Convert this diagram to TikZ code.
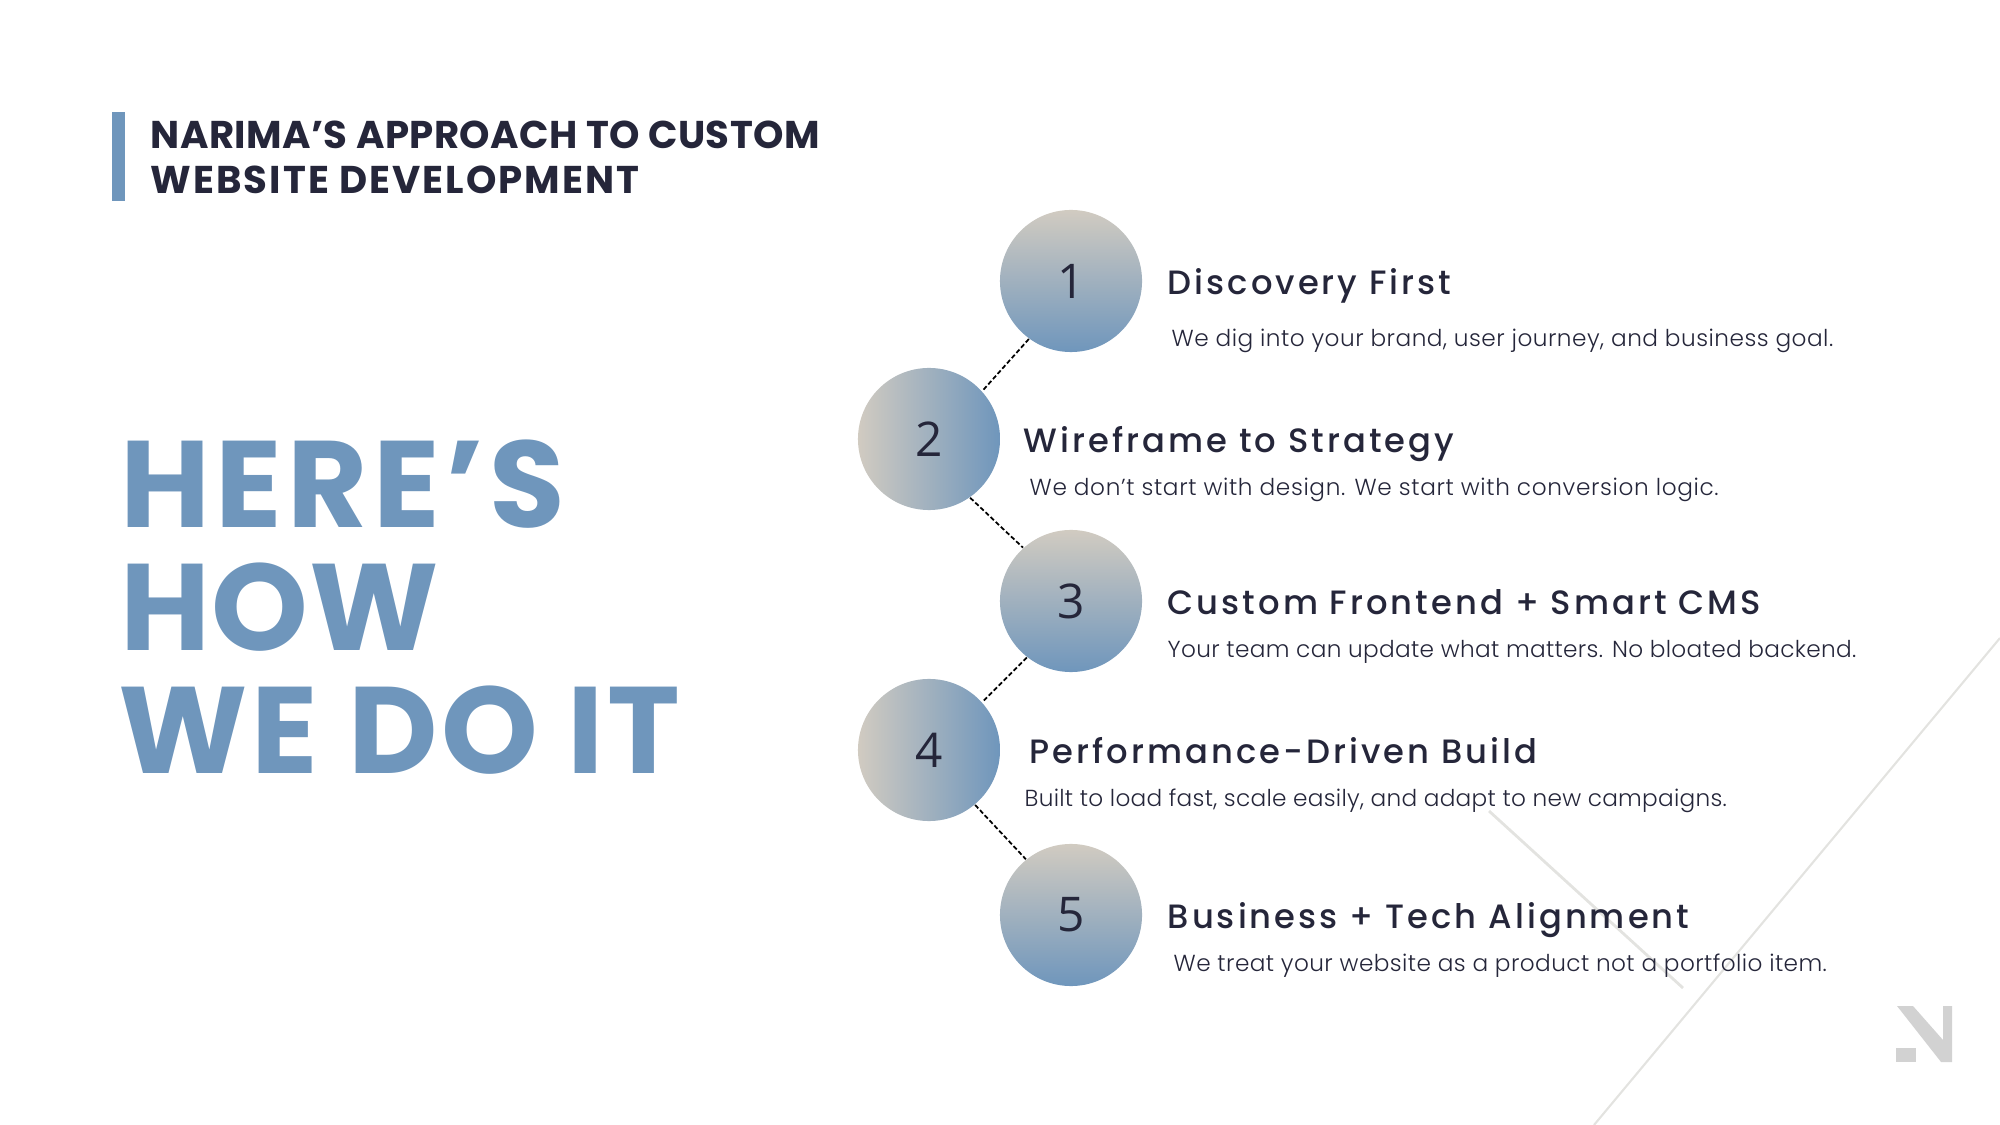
\documentclass[tikz,border=0pt]{standalone}
\usepackage{fontspec}
\setmainfont{Poppins}
\newfontfamily\headfont[LetterSpace=9]{Poppins Medium}
\newfontfamily\descfont[LetterSpace=1.8]{Poppins Light}
\newfontfamily\numfont{Open Sans}
\definecolor{narblue}{HTML}{6F96BC}
\definecolor{narsand}{HTML}{D1CBC1}
\definecolor{nardark}{HTML}{25263A}
\definecolor{narline}{HTML}{E3E3E0}
\definecolor{narlogo}{HTML}{D2D2D2}
\tikzset{
    stepdown/.style={circle, minimum size=1.42cm, inner sep=0pt, top color=narsand, bottom color=narblue, text=nardark, font=\numfont\fontsize{13.6}{16}\selectfont},
    stepside/.style={stepdown, left color=narsand, right color=narblue},
    steptitle/.style={anchor=base west, inner sep=0pt, text=nardark, font=\headfont\fontsize{9.6}{11}\selectfont},
    stepdesc/.style={anchor=base west, inner sep=0pt, text=nardark, font=\descfont\fontsize{6.6}{8}\selectfont},
    bigtitle/.style={anchor=base west, inner sep=0pt, text=narblue, font=\fontsize{35}{40}\selectfont\bfseries},
    toptitle/.style={anchor=base west, inner sep=0pt, text=nardark, font=\fontsize{11}{13}\selectfont\bfseries},
    joinline/.style={dash pattern=on 1.3pt off 0.7pt, line width=0.5pt, black}
}
\begin{document}
\begin{tikzpicture}[x=0.01cm, y=-0.01cm, line join=round]
    \useasboundingbox (0,0) rectangle (2000,1125);
    % background lines and logo
    \draw[narline, line width=0.6pt] (2000,638)--(1594,1125);
    \draw[narline, line width=0.8pt] (1489,811)--(1683,988);
    \fill[narlogo] (1896,1048) rectangle (1916,1062);
    \fill[narlogo] (1897,1006)--(1913,1006)--(1943,1040)--(1943,1006)--(1952,1006)--(1952,1062)--(1941,1062)--cycle;
    % header
    \fill[narblue] (112,112) rectangle (125,201);
    \node[toptitle] (top1) at (150,149) {\addfontfeature{LetterSpace=1}NARIMA’S APPROACH TO CUSTOM};
    \node[toptitle] (top2) at (150,194) {\addfontfeature{LetterSpace=5.3}WEBSITE DEVELOPMENT};
    \node[bigtitle] (big1) at (120,528) {\addfontfeature{LetterSpace=4.3}HERE’S};
    \node[bigtitle] (big2) at (120,650) {\addfontfeature{LetterSpace=1}HOW};
    \node[bigtitle] (big3) at (118,773) {\addfontfeature{LetterSpace=3}WE DO IT};
    % steps
    \node[stepdown] (one) at (1071,281) {1};
    \node[stepside] (two) at (929,439) {2};
    \node[stepdown] (three) at (1071,601) {3};
    \node[stepside] (four) at (929,750) {4};
    \node[stepdown] (five) at (1071,915) {5};
    \draw[joinline] (one.234)--(two.42);
    \draw[joinline] (two.-55)--(three.132);
    \draw[joinline] (three.232)--(four.42);
    \draw[joinline] (four.-50)--(five.129);
    \node[steptitle] (head1) at (1167,295) {Discovery First};
    \node[stepdesc] (desc1) at (1171,347) {\addfontfeature{LetterSpace=2.1}We dig into your brand, user journey, and business goal.};
    \node[steptitle] (head2) at (1023,453) {Wireframe to Strategy};
    \node[stepdesc] (desc2) at (1029,496) {\addfontfeature{LetterSpace=2.75}We don’t start with design. We start with conversion logic.};
    \node[steptitle] (head3) at (1167,615) {Custom Frontend + Smart CMS};
    \node[stepdesc] (desc3) at (1167,658) {\addfontfeature{LetterSpace=1.4}Your team can update what matters. No bloated backend.};
    \node[steptitle] (head4) at (1029,764) {Performance-Driven Build};
    \node[stepdesc] (desc4) at (1024,807) {\addfontfeature{LetterSpace=1.17}Built to load fast, scale easily, and adapt to new campaigns.};
    \node[steptitle] (head5) at (1167,928) {Business + Tech Alignment};
    \node[stepdesc] (desc5) at (1173,971) {We treat your website as a product not a portfolio item.};
\end{tikzpicture}
\end{document}
